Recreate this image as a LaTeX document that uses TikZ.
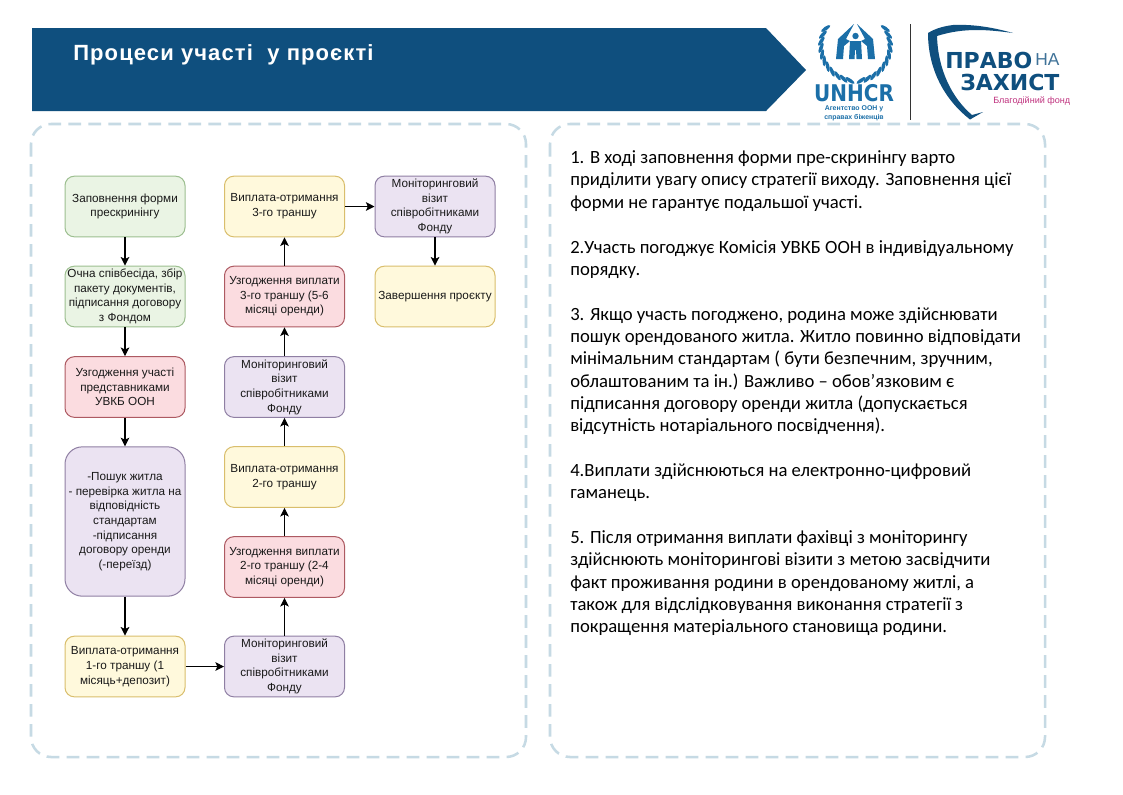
\documentclass[tikz,border=0pt]{standalone}
\usepackage{fontspec}
\setmainfont{Liberation Sans}
\newfontfamily\bodyfont{Carlito}
\newfontfamily\titlefont[LetterSpace=5]{Liberation Sans}
\newfontfamily\logofont{DejaVu Sans}
\usetikzlibrary{arrows.meta}
\definecolor{headblue}{HTML}{0F4F7E}
\definecolor{unblue}{HTML}{1B6FA8}
\definecolor{dashblue}{HTML}{C6DAE4}
\definecolor{pinkfund}{HTML}{C0327F}
\definecolor{gb}{HTML}{EAF4E4}
\definecolor{yb}{HTML}{FFF9DC}
\definecolor{rb}{HTML}{FBDCE0}
\definecolor{pb}{HTML}{EBE3F2}
\definecolor{gl}{HTML}{9DBF90}
\definecolor{yl}{HTML}{D9BE6C}
\definecolor{rl}{HTML}{AD5A62}
\definecolor{pl}{HTML}{8F7FA3}
\tikzset{
  flowbox/.style={draw=#1, line width=0.75pt, rounded corners=7pt, minimum width=90pt, minimum height=45.5pt, inner sep=0pt, align=center, font=\fontsize{8.8}{11}\selectfont, text=black!90},
  greenbox/.style={flowbox=gl, fill=gb},
  yellowbox/.style={flowbox=yl, fill=yb},
  redbox/.style={flowbox=rl, fill=rb},
  purplebox/.style={flowbox=pl, fill=pb},
  frame/.style={draw=dashblue, line width=1.9pt, rounded corners=15pt, dash pattern=on 9.5pt off 5.5pt},
  link/.style={draw=black, line width=0.8pt, -{Stealth[length=6.5pt,width=6.5pt,inset=1.5pt]}},
  leaf/.style={fill=unblue, draw=none}
}
\begin{document}
\begin{tikzpicture}[x=0.75pt,y=-0.75pt]
\useasboundingbox (0,0) rectangle (1123,794);
\fill[white] (0,0) rectangle (1123,794);
% header
\fill[headblue] (32,28) -- (766,28) -- (806,70) -- (766,111) -- (32,111) -- cycle;
\node[anchor=west, text=white, inner sep=0pt, font=\titlefont\fontsize{16.5}{18}\bfseries\selectfont] (title) at (73,55) {Процеси участі\ \ у проєкті};
% frames
\draw[frame] (31,124) rectangle (526,757);
\draw[frame] (550,124) rectangle (1045,757);
% column 1
\node[greenbox] (a1) at (125,206.5) {Заповнення форми\\прескринінгу};
\node[greenbox] (a2) at (125,296.5) {Очна співбесіда, збір\\пакету документів,\\підписання договору\\з Фондом};
\node[redbox] (a3) at (125,387) {Узгодження участі\\представниками\\УВКБ ООН};
\node[purplebox, minimum height=112pt, rounded corners=13pt] (a4) at (125,521.5) {-Пошук житла\\- перевірка житла на\\відповідність\\стандартам\\-підписання\\договору оренди\\(-переїзд)};
\node[yellowbox] (a5) at (125,666.5) {Виплата-отримання\\1-го траншу (1\\місяць+депозит)};
% column 2
\node[purplebox] (b1) at (284.5,666.5) {Моніторинговий\\візит\\співробітниками\\Фонду};
\node[redbox] (b2) at (284.5,567) {Узгодження виплати\\2-го траншу (2-4\\місяці оренди)};
\node[yellowbox] (b3) at (284.5,477) {Виплата-отримання\\2-го траншу};
\node[purplebox] (b4) at (284.5,387) {Моніторинговий\\візит\\співробітниками\\Фонду};
\node[redbox] (b5) at (284.5,296.5) {Узгодження виплати\\3-го траншу (5-6\\місяці оренди)};
\node[yellowbox] (b6) at (284.5,206.5) {Виплата-отримання\\3-го траншу};
% column 3
\node[purplebox] (c1) at (435,206.5) {Моніторинговий\\візит\\співробітниками\\Фонду};
\node[yellowbox] (c2) at (435,296.5) {Завершення проєкту};
% connectors
\draw[link] (a1) -- (a2);
\draw[link] (a2) -- (a3);
\draw[link] (a3) -- (a4);
\draw[link] (a4) -- (a5);
\draw[link] (a5) -- (b1);
\draw[link] (b1) -- (b2);
\draw[link] (b2) -- (b3);
\draw[link] (b3) -- (b4);
\draw[link] (b4) -- (b5);
\draw[link] (b5) -- (b6);
\draw[link] (b6) -- (c1);
\draw[link] (c1) -- (c2);
% body text
\node[anchor=north west, inner sep=0pt, align=left, text=black, font=\bodyfont\fontsize{14}{16.76}\selectfont] (body) at (570,150.5) {%
1. В ході заповнення форми пре-скринінгу варто\\
приділити увагу опису стратегії виходу. Заповнення цієї\\
форми не гарантує подальшої участі.\\
\mbox{}\\
2.Участь погоджує Комісія УВКБ ООН в індивідуальному\\
порядку.\\
\mbox{}\\
3. Якщо участь погоджено, родина може здійснювати\\
пошук орендованого житла. Житло повинно відповідати\\
мінімальним стандартам ( бути безпечним, зручним,\\
облаштованим та ін.) Важливо – обов’язковим є\\
підписання договору оренди житла (допускається\\
відсутність нотаріального посвідчення).\\
\mbox{}\\
4.Виплати здійснюються на електронно-цифровий\\
гаманець.\\
\mbox{}\\
5. Після отримання виплати фахівці з моніторингу\\
здійснюють моніторингові візити з метою засвідчити\\
факт проживання родини в орендованому житлі, а\\
також для відслідковування виконання стратегії з\\
покращення матеріального становища родини.};
% UNHCR logo: roof arms
\fill[unblue] (854,24) -- (838,39) -- (836,59) -- (843,59) -- (844,46) -- (850,41) -- (846,39) -- cycle;
\fill[unblue] (857,24) -- (873,39) -- (875,59) -- (868,59) -- (867,46) -- (861,41) -- (865,39) -- cycle;
% figure
\fill[unblue] (855.5,36) circle (3.2);
\fill[unblue] (850,41) -- (861,41) -- (862,59) -- (856.5,59) -- (856,50) -- (855,50) -- (854.5,59) -- (849,59) -- cycle;
% laurels
\foreach \t in {100,111,...,210}{
  \fill[leaf, shift={({856+35*cos(\t)},{46+35*sin(\t)})}, rotate={-\t+90-25}] (0,0) ellipse (5.5 and 1.8);
  \fill[leaf, shift={({855-35*cos(\t)},{46+35*sin(\t)})}, rotate={\t-90+25}] (0,0) ellipse (5.5 and 1.8);
}
\node[inner sep=0pt, text=unblue, font=\logofont\fontsize{15}{16}\bfseries\selectfont] (unhcr) at (854,93.5) {\scalebox{1}[1.15]{UNHCR}};
\node[inner sep=0pt, text=unblue, align=center, font=\fontsize{5.2}{6.6}\bfseries\selectfont] (unsub) at (854,113.5) {Агентство ООН у\\справах біженців};
\draw[black!80, line width=0.8pt] (910.7,24) -- (910.7,120);
% Pravo na zakhyst logo
\fill[headblue] (928,33) .. controls (936,28) and (945,26) .. (953,25) .. controls (975,24) and (995,28) .. (1013,33) .. controls (990,30) and (965,27) .. (937,36)
  .. controls (938,70) and (952,98) .. (972,115) -- (983,112) -- (970,119.5)
  .. controls (945,100) and (928,70) .. (928,33) -- cycle;
\node[anchor=west, inner sep=0pt, text=headblue, font=\logofont\fontsize{16.5}{18}\bfseries\selectfont] (pravo) at (945,60) {ПРАВО};
\node[anchor=west, inner sep=0pt, text=headblue!80, font=\fontsize{13}{14}\selectfont] (na) at (1035,60) {НА};
\node[anchor=west, inner sep=0pt, text=headblue, font=\logofont\fontsize{16.5}{20}\bfseries\selectfont] (zakh) at (960,82) {ЗАХИСТ};
\node[anchor=west, inner sep=0pt, text=pinkfund, font=\fontsize{6.8}{8}\selectfont] (fund) at (993,101) {Благодійний фонд};
\end{tikzpicture}
\end{document}
